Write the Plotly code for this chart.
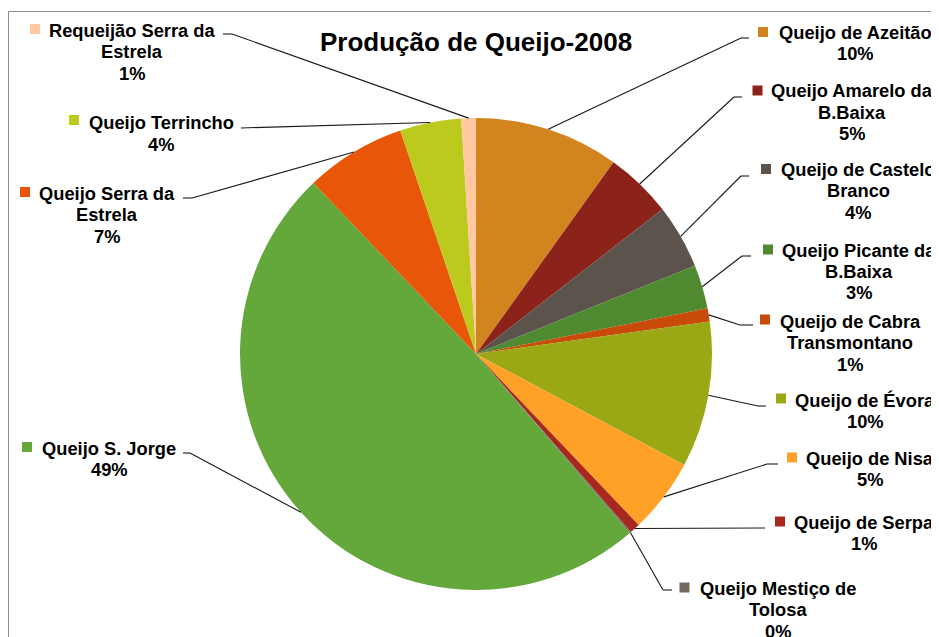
import math
import plotly.graph_objects as go

# ---------------- data ----------------
categories = [
    "Queijo de Azeitão",
    "Queijo Amarelo da B.Baixa",
    "Queijo de Castelo Branco",
    "Queijo Picante da B.Baixa",
    "Queijo de Cabra Transmontano",
    "Queijo de Évora",
    "Queijo de Nisa",
    "Queijo de Serpa",
    "Queijo Mestiço de Tolosa",
    "Queijo S. Jorge",
    "Queijo Serra da Estrela",
    "Queijo Terrincho",
    "Requeijão Serra da Estrela",
]
values = [9.9, 4.6, 4.4, 3.0, 0.9, 10.0, 5.1, 0.7, 0.1, 49.2, 6.9, 4.2, 1.0]
label_lines = [
    ["Queijo de Azeitão"],
    ["Queijo Amarelo da", "B.Baixa"],
    ["Queijo de Castelo", "Branco"],
    ["Queijo Picante da", "B.Baixa"],
    ["Queijo de Cabra", "Transmontano"],
    ["Queijo de Évora"],
    ["Queijo de Nisa"],
    ["Queijo de Serpa"],
    ["Queijo Mestiço de", "Tolosa"],
    ["Queijo S. Jorge"],
    ["Queijo Serra da", "Estrela"],
    ["Queijo Terrincho"],
    ["Requeijão Serra da", "Estrela"],
]
colors = ["#D2841E", "#8C231B", "#5C544C", "#508A30", "#C84B0A", "#9AA815",
          "#FFA126", "#A8281E", "#716A60", "#64A83C", "#E8560A", "#BCCA1E", "#FFC8A0"]
title = "Produção de Queijo-2008"

# ---------------- layout (pixels, in window coordinates) ----------------
W, H = 939, 637
OX, OY = 8, 8          # page body margin offset of the figure inside the window
CX, CY, R = 476, 354, 236

# text centre x, first line y, key square centre (x,y), elbow x (near label), elbow x (near pie), elbow y
label_layout = [
    (855, 32, 763, 32, 749, 741, 38),
    (852, 91, 757.5, 90.5, 742, 734, 97),
    (858, 169, 766, 169, 749, 741, 176),
    (859, 250, 768, 249.5, 751, 742, 256),
    (850, 321, 765, 319.5, 753, 740, 325),
    (865, 400, 781, 398.5, 766, 758, 406),
    (870, 458, 792, 457.5, 778, 767, 464),
    (864, 522, 780, 521.5, 765, 765, 528),
    (778, 588, 684.5, 587.5, 672, 663, 590),
    (109, 448, 27, 447, 183, 190, 453),
    (107, 193, 25, 192, 183, 192, 198),
    (161, 123, 74, 120, 241, 241, 128),
    (132, 30, 35, 29, 223, 232, 34),
]
LINE_H = 21.5
FONT = "Liberation Sans, Arial, sans-serif"
LABEL_SIZE = 18.3


def px(x):
    return (x - OX) / W


def py(y):
    return 1 - (y - OY) / H


fig = go.Figure()
fig.add_trace(go.Pie(
    labels=categories,
    values=values,
    sort=False,
    direction="clockwise",
    rotation=0,
    marker=dict(colors=colors, line=dict(width=0)),
    textinfo="none",
    hoverinfo="label+percent",
    showlegend=False,
    domain=dict(x=[px(CX - R), px(CX + R)], y=[py(CY + R), py(CY - R)]),
))

annotations = []
shapes = []

total = sum(values)
cum = 0.0
for i, v in enumerate(values):
    mid = (cum + v / 2) / total * 2 * math.pi
    cum += v
    ex = CX + R * math.sin(mid)
    ey = CY - R * math.cos(mid)
    tx, ty0, sx, sy, e1, e2, ey2 = label_layout[i]
    pct = round(v / total * 100)
    lines = label_lines[i] + [f"{pct}%"]
    for k, ln in enumerate(lines):
        annotations.append(dict(
            x=px(tx), y=py(ty0 + k * LINE_H), xref="paper", yref="paper",
            text=f"<b>{ln}</b>", showarrow=False, xanchor="center", yanchor="middle",
            font=dict(family=FONT, size=LABEL_SIZE, color="#000000"),
        ))
    # legend key square
    shapes.append(dict(type="rect", xref="paper", yref="paper",
                       x0=px(sx - 5), x1=px(sx + 5), y0=py(sy + 5), y1=py(sy - 5),
                       fillcolor=colors[i], line=dict(width=0)))
    # leader line
    lc = "#1a1a1a"
    shapes.append(dict(type="line", xref="paper", yref="paper",
                       x0=px(e1), y0=py(ey2), x1=px(e2), y1=py(ey2),
                       line=dict(color=lc, width=1.1)))
    shapes.append(dict(type="line", xref="paper", yref="paper",
                       x0=px(e2), y0=py(ey2), x1=px(ex), y1=py(ey),
                       line=dict(color=lc, width=1.1)))

# title
annotations.append(dict(
    x=px(476), y=py(42), xref="paper", yref="paper", text=f"<b>{title}</b>",
    showarrow=False, xanchor="center", yanchor="middle",
    font=dict(family=FONT, size=26, color="#000000"),
))

# chart frame
shapes.append(dict(type="rect", xref="paper", yref="paper",
                   x0=px(8.5), x1=px(W + 20), y0=py(H + 20), y1=py(11.5),
                   line=dict(color="#8c8c8c", width=1), fillcolor="rgba(0,0,0,0)",
                   layer="below"))

fig.update_layout(
    width=W, height=H,
    margin=dict(l=0, r=0, t=0, b=0),
    paper_bgcolor="white",
    plot_bgcolor="white",
    annotations=annotations,
    shapes=shapes,
)

fig.write_html("out.html")
